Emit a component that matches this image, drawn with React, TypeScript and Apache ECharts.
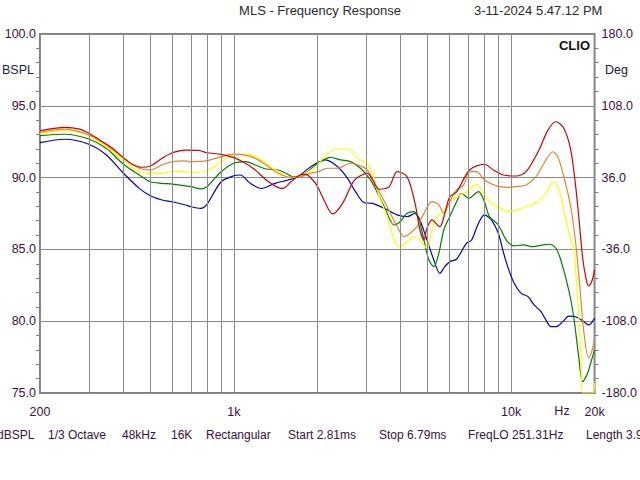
import { useEffect, useRef } from 'react';
import * as echarts from 'echarts';

// vertical grid lines between the decade ticks
const gridFreqs = [300, 400, 500, 600, 700, 800, 900, 2000, 3000, 4000, 5000, 6000, 7000, 8000, 9000];
const phaseTicks = ['-180.0', '-108.0', '-36.0', '36.0', '108.0', '180.0'];

const red: [number, number][] = [
    [200, 93.27], [226, 93.43], [246, 93.5], [278, 93.38], [300, 93.09], [336, 92.5], [365, 92.04], [400, 91.39],
    [430, 90.93], [467, 90.72], [500, 90.81], [551, 91.34], [600, 91.73], [671, 91.92], [747, 91.89], [800, 91.73],
    [900, 91.62], [1000, 91.39], [1101, 91.0], [1195, 90.53], [1309, 89.83], [1444, 89.3], [1505, 89.25], [1608, 89.71],
    [1732, 90.18], [1819, 90.23], [1927, 89.83], [2000, 89.42], [2128, 88.32], [2272, 87.47], [2468, 88.21], [2724, 89.83],
    [3032, 90.3], [3347, 89.19], [3634, 89.37], [3882, 90.41], [4216, 90.06], [4504, 88.21], [4692, 86.35], [4850, 85.65],
    [4972, 86.47], [5181, 87.05], [5534, 86.58], [5766, 87.51], [6008, 88.67], [6362, 89.0], [7084, 90.53], [8016, 90.93],
    [8634, 90.53], [9374, 90.18], [10434, 90.11], [11327, 90.41], [12608, 91.92], [13580, 93.31], [14506, 93.89],
    [15494, 93.43], [16412, 91.92], [17102, 89.37], [17676, 86.58], [18120, 84.4], [18574, 83.1], [19036, 82.45],
    [19514, 82.73], [20000, 83.57],
];

const orange: [number, number][] = [
    [200, 93.15], [246, 93.38], [300, 92.97], [347, 92.27], [400, 91.34], [456, 90.65], [500, 90.53], [551, 90.88],
    [600, 91.11], [671, 91.16], [700, 91.11], [800, 91.18], [900, 91.46], [1000, 91.64], [1101, 91.57], [1195, 91.34],
    [1309, 90.88], [1444, 90.3], [1595, 90.04], [1732, 90.06], [1896, 90.3], [2000, 90.39], [2180, 90.65], [2368, 90.65],
    [2636, 91.0], [2862, 90.81], [3032, 90.53], [3292, 89.25], [3574, 87.97], [3882, 86.58], [4112, 85.88], [4322, 86.12],
    [4579, 86.58], [4850, 87.51], [5181, 88.32], [5488, 88.09], [5718, 87.51], [6008, 88.32], [6362, 89.14], [6742, 89.48],
    [7084, 90.41], [7504, 90.41], [8016, 89.83], [8848, 89.42], [9606, 89.32], [10434, 89.37], [11327, 89.48],
    [12300, 90.06], [13140, 91.0], [14148, 91.8], [14742, 91.46], [15494, 90.06], [16412, 87.97], [17102, 85.43],
    [17676, 82.52], [18266, 79.39], [19036, 77.44], [19514, 77.86], [20000, 78.69],
];

const yellow: [number, number][] = [
    [200, 93.04], [246, 93.31], [300, 92.92], [347, 92.15], [400, 91.16], [456, 90.41], [500, 90.3], [551, 90.3],
    [600, 90.41], [671, 90.41], [700, 90.37], [800, 90.48], [900, 91.11], [1000, 91.62], [1101, 91.64], [1195, 91.46],
    [1309, 91.0], [1444, 90.41], [1595, 89.99], [1703, 90.06], [1819, 90.3], [2000, 90.88], [2180, 91.69], [2368, 91.99],
    [2614, 91.99], [2792, 91.34], [3032, 91.0], [3160, 90.3], [3347, 88.67], [3574, 87.28], [3788, 85.65], [3978, 85.19],
    [4216, 85.54], [4466, 85.88], [4692, 85.65], [4972, 85.08], [5181, 86.35], [5398, 87.28], [5718, 87.63], [6008, 88.32],
    [6362, 88.65], [6910, 89.02], [7504, 89.55], [8016, 88.79], [8634, 88.09], [9070, 87.97], [9606, 87.63],
    [10434, 87.74], [11327, 87.97], [12506, 88.32], [13358, 88.91], [14148, 89.71], [14742, 89.37], [15494, 87.74],
    [16412, 85.65], [16822, 84.96], [17388, 81.48], [17824, 77.99], [18120, 75.0], [19672, 75.0], [20000, 75.7],
];

const green: [number, number][] = [
    [200, 92.92], [246, 93.02], [300, 92.69], [347, 92.04], [400, 90.93], [456, 90.18], [500, 89.71], [551, 89.6],
    [600, 89.55], [671, 89.42], [700, 89.37], [766, 89.21], [800, 89.37], [900, 90.41], [1000, 91.0], [1101, 91.11],
    [1195, 90.88], [1309, 90.6], [1444, 90.53], [1543, 90.3], [1635, 90.06], [1775, 90.18], [2000, 90.95], [2235, 91.41],
    [2428, 91.23], [2636, 91.11], [2862, 90.65], [3082, 89.95], [3238, 89.25], [3488, 87.97], [3788, 86.7], [3978, 86.93],
    [4216, 87.51], [4466, 87.63], [4654, 87.05], [4850, 85.65], [5052, 84.26], [5266, 83.8], [5488, 84.73], [5718, 86.35],
    [6008, 87.28], [6362, 88.32], [6632, 88.91], [7026, 88.56], [7628, 89.02], [8016, 88.32], [8354, 87.28], [8996, 86.7],
    [9606, 85.65], [10262, 85.24], [11052, 85.31], [11998, 85.19], [13032, 85.31], [13690, 85.36], [14506, 85.08],
    [15110, 84.26], [16144, 82.17], [16822, 80.31], [17532, 77.53], [18120, 75.79], [18882, 76.37], [19352, 77.07],
    [20000, 77.99],
];

const blue: [number, number][] = [
    [200, 92.43], [246, 92.67], [300, 92.32], [347, 91.57], [400, 90.3], [456, 89.25], [500, 88.74], [551, 88.44],
    [600, 88.32], [671, 88.09], [700, 87.97], [760, 87.86], [800, 88.14], [900, 89.71], [1000, 90.13], [1056, 90.18],
    [1147, 89.6], [1256, 89.25], [1409, 89.6], [1569, 89.83], [1703, 90.06], [1896, 90.76], [2144, 91.23], [2368, 90.76],
    [2572, 89.95], [2746, 89.02], [2958, 88.25], [3160, 88.21], [3488, 87.86], [3882, 87.4], [4216, 87.28], [4504, 87.51],
    [4692, 87.05], [4972, 85.65], [5266, 84.26], [5534, 83.34], [5766, 83.8], [6008, 84.14], [6362, 84.33], [6910, 85.43],
    [7202, 85.65], [7628, 86.82], [8016, 87.4], [8492, 87.05], [8996, 86.12], [9374, 84.82], [9768, 83.68], [10262, 82.64],
    [10872, 81.94], [11516, 81.71], [12100, 81.13], [12820, 80.66], [13358, 80.08], [13920, 79.62], [14506, 79.62],
    [15366, 79.97], [16144, 80.36], [17102, 80.31], [18120, 80.03], [19036, 79.74], [20000, 80.2],
];

const footer: [string, number][] = [
    ['dBSPL', -3], ['1/3 Octave', 48], ['48kHz', 122], ['16K', 171], ['Rectangular', 206],
    ['Start 2.81ms', 288], ['Stop 6.79ms', 379], ['FreqLO 251.31Hz', 468], ['Length 3.98ms', 586],
];

const FONT = '"Liberation Sans", Arial, sans-serif';
const LABEL = '#3a1040';
const GRID = '#8a8a8a';
const BORDER = '#808080';

export default function App() {
    const chartRef = useRef<HTMLDivElement>(null);

    useEffect(() => {
        if (!chartRef.current) return;
        const chart = echarts.init(chartRef.current, null, { renderer: 'svg' });

        const curve = (name: string, data: [number, number][], color: string) => ({
            name,
            type: 'line',
            data,
            yAxisIndex: 0,
            showSymbol: false,
            smooth: 0.3,
            lineStyle: { color, width: 1.2 },
            itemStyle: { color },
            silent: true,
        });

        const text = (t: string, x: number, y: number, extra: object = {}) => ({
            type: 'text',
            x,
            y,
            silent: true,
            style: { text: t, fill: LABEL, font: `12.5px ${FONT}`, textVerticalAlign: 'middle', ...extra },
        });

        chart.setOption({
            animation: false,
            textStyle: { fontFamily: FONT },
            grid: { left: 40, right: 41, top: 34, bottom: 87, show: true, borderColor: BORDER, borderWidth: 2 },
            xAxis: {
                type: 'log',
                logBase: 10,
                min: 200,
                max: 20000,
                axisLine: { show: false },
                axisTick: { show: false },
                splitLine: { show: true, lineStyle: { color: GRID, width: 1 } },
                axisLabel: {
                    showMinLabel: true,
                    showMaxLabel: true,
                    margin: 12,
                    color: LABEL,
                    fontSize: 12.5,
                    formatter: (v: number) => {
                        const r = Math.round(v);
                        return r >= 1000 ? `${Math.round(r / 1000)}k` : `${r}`;
                    },
                },
            },
            yAxis: [
                {
                    type: 'value',
                    min: 75,
                    max: 100,
                    interval: 5,
                    axisLine: { show: false },
                    axisTick: { show: false },
                    minorTick: { show: true, splitNumber: 5, length: 4, lineStyle: { color: BORDER } },
                    splitLine: { show: true, lineStyle: { color: GRID, width: 1 } },
                    axisLabel: { margin: 4, color: LABEL, fontSize: 12.5, formatter: (v: number) => v.toFixed(1) },
                },
                {
                    type: 'value',
                    position: 'right',
                    min: 0,
                    max: 5,
                    interval: 1,
                    axisLine: { show: false },
                    axisTick: { show: false },
                    minorTick: { show: true, splitNumber: 5, length: 4, lineStyle: { color: BORDER } },
                    splitLine: { show: false },
                    axisLabel: { margin: 7, color: LABEL, fontSize: 12.5, formatter: (v: number) => phaseTicks[Math.round(v)] },
                },
            ],
            series: [
                {
                    type: 'line',
                    data: [],
                    silent: true,
                    markLine: {
                        silent: true,
                        symbol: 'none',
                        label: { show: false },
                        lineStyle: { color: GRID, width: 1, type: 'solid' },
                        data: gridFreqs.map(f => ({ xAxis: f })),
                    },
                },
                curve('blue', blue, '#0000c8'),
                curve('green', green, '#008000'),
                curve('yellow', yellow, '#ffff00'),
                curve('orange', orange, '#e8842c'),
                curve('red', red, '#d00000'),
            ],
            graphic: [
                text('MLS - Frequency Response', 320, 10, { textAlign: 'center', fill: '#2a2a2a', font: `13px ${FONT}` }),
                text('3-11-2024 5.47.12 PM', 474, 10, { fill: '#2a2a2a', font: `13px ${FONT}` }),
                text('CLIO', 590, 45, { textAlign: 'right', fill: '#111', font: `bold 13px ${FONT}` }),
                text('BSPL', 2, 70, { fill: '#202040' }),
                text('Deg', 605, 70, { fill: '#202040' }),
                text('Hz', 562, 411, { textAlign: 'center' }),
                ...footer.map(([t, x]) => text(t, x, 435, { font: `12px ${FONT}` })),
            ],
        });

        return () => chart.dispose();
    }, []);

    return (
        <div
            ref={chartRef}
            style={{ position: 'absolute', left: 0, top: 0, width: '640px', height: '480px', background: '#fff' }}
        ></div>
    );
}
